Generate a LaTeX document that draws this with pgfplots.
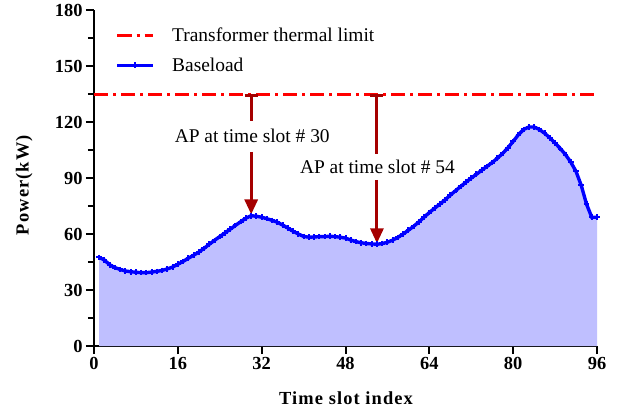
\documentclass[border=0pt]{standalone}
\usepackage{pgfplots}
\pgfplotsset{compat=1.18}
\usepackage{pgfplotstable}
\usepackage{fontspec}
\setmainfont{Liberation Serif}
\usetikzlibrary{arrows.meta}

\definecolor{limitred}{RGB}{255,0,0}
\definecolor{loadblue}{RGB}{0,0,255}
\definecolor{loadfill}{RGB}{191,191,255}
\definecolor{apred}{RGB}{165,0,0}

\newcommand{\txtfont}{\rmfamily\fontsize{19.5}{22}\selectfont}
\newcommand{\tickfont}{\fontsize{18.5}{20}\selectfont\bfseries}
\newcommand{\labfont}{\fontsize{18.5}{20}\selectfont\bfseries\addfontfeatures{LetterSpace=6}}

% Baseload power per 15-minute time slot (kW)
\pgfplotstableread{
slot power
1 47.5
2 46
3 43.5
4 42
5 41
6 40.2
7 39.8
8 39.5
9 39.3
10 39.3
11 39.6
12 40
13 40.5
14 41.3
15 42.3
16 43.8
17 45.3
18 47
19 48.6
20 50.3
21 52.3
22 54.5
23 56.6
24 58.6
25 60.6
26 62.6
27 64.6
28 66.6
29 68.5
30 69.8
31 69.5
32 69
33 68.2
34 67.3
35 66.3
36 64.8
37 63.2
38 61.5
39 60
40 58.7
41 58.3
42 58.4
43 58.6
44 58.6
45 58.8
46 58.6
47 58.3
48 57.8
49 56.8
50 55.9
51 55.3
52 54.9
53 54.7
54 54.5
55 54.9
56 55.6
57 56.7
58 58.2
59 60
60 62
61 64.1
62 66.5
63 69
64 71.5
65 73.8
66 76
67 78.3
68 80.8
69 83.2
70 85.5
71 87.8
72 90
73 92
74 94.2
75 96.2
76 98.3
77 100.6
78 103.2
79 106.2
80 109.6
81 113.2
82 116
83 117.3
84 117.3
85 116
86 114
87 111.5
88 108.7
89 105.8
90 102.5
91 98.5
92 93.5
93 86
94 76
95 69
96 69
}\baseload

\begin{document}
\begin{tikzpicture}
\begin{axis}[
  scale only axis,
  width=503bp, height=336bp,
  xmin=0, xmax=96, ymin=0, ymax=180,
  axis x line*=bottom, axis y line*=left,
  axis line style={line width=2.2bp, -},
  xtick={0,16,...,96},
  ytick={0,30,...,180},
  minor y tick num=1,
  tick align=outside,
  major tick length=8bp, minor tick length=6bp,
  every tick/.style={black, line width=2bp},
  tick label style={font=\tickfont},
  /pgf/number format/assume math mode=true,
  xlabel={\labfont Time slot index},
  ylabel={\labfont Power(kW)},
  xlabel style={at={(axis description cs:0.501,-0.155)}, anchor=center},
  ylabel style={at={(axis description cs:-0.139,0.479)}, anchor=center, rotate=0},
  legend cell align=left,
  legend image code/.code={%
    \draw[mark repeat=2,mark phase=2,#1] plot coordinates {(0bp,0bp) (17.5bp,0bp) (35bp,0bp)};},
  legend style={draw=none, fill=none, font=\txtfont,
    at={(axis description cs:0.037,0.96)}, anchor=north west,
    row sep=11bp,
    /tikz/every odd column/.append style={column sep=16bp}},
]
\coordinate (sw) at (rel axis cs:0,0);
\coordinate (ne) at (rel axis cs:1,1);

% area under the baseload curve
\addplot[draw=none, fill=loadfill, forget plot] table[x=slot, y=power] {\baseload} \closedcycle;

% transformer thermal limit
\addplot[limitred, line width=3bp, dash pattern=on 14bp off 5bp on 3bp off 5bp]
  coordinates {(0,135) (96,135)};
\addlegendentry{Transformer thermal limit}

% baseload profile
\addplot[loadblue, line width=3.4bp, mark=+, mark size=2.8bp,
  mark options={line width=2bp, solid}]
  table[x=slot, y=power] {\baseload};
\addlegendentry{Baseload}

% headroom arrows at the two annotated slots
\draw[apred, line width=3bp, {Bar[width=13bp]}-] (axis cs:30,135) -- (axis cs:30,120.5);
\draw[apred, line width=3bp, -{Triangle[width=13bp,length=15bp]}] (axis cs:30,104) -- (axis cs:30,70.5);
\node[font=\txtfont] at (axis cs:30.2,112.5) {AP at time slot \# 30};

\draw[apred, line width=3bp, {Bar[width=13bp]}-] (axis cs:54,135) -- (axis cs:54,103);
\draw[apred, line width=3bp, -{Triangle[width=13bp,length=15bp]}] (axis cs:54,89) -- (axis cs:54,55);
\node[font=\txtfont] at (axis cs:54.1,96) {AP at time slot \# 54};
\end{axis}
\pgfresetboundingbox
\path[use as bounding box] ([shift={(-94bp,-65bp)}]sw) rectangle ([shift={(28bp,10bp)}]ne);
\end{tikzpicture}
\end{document}
